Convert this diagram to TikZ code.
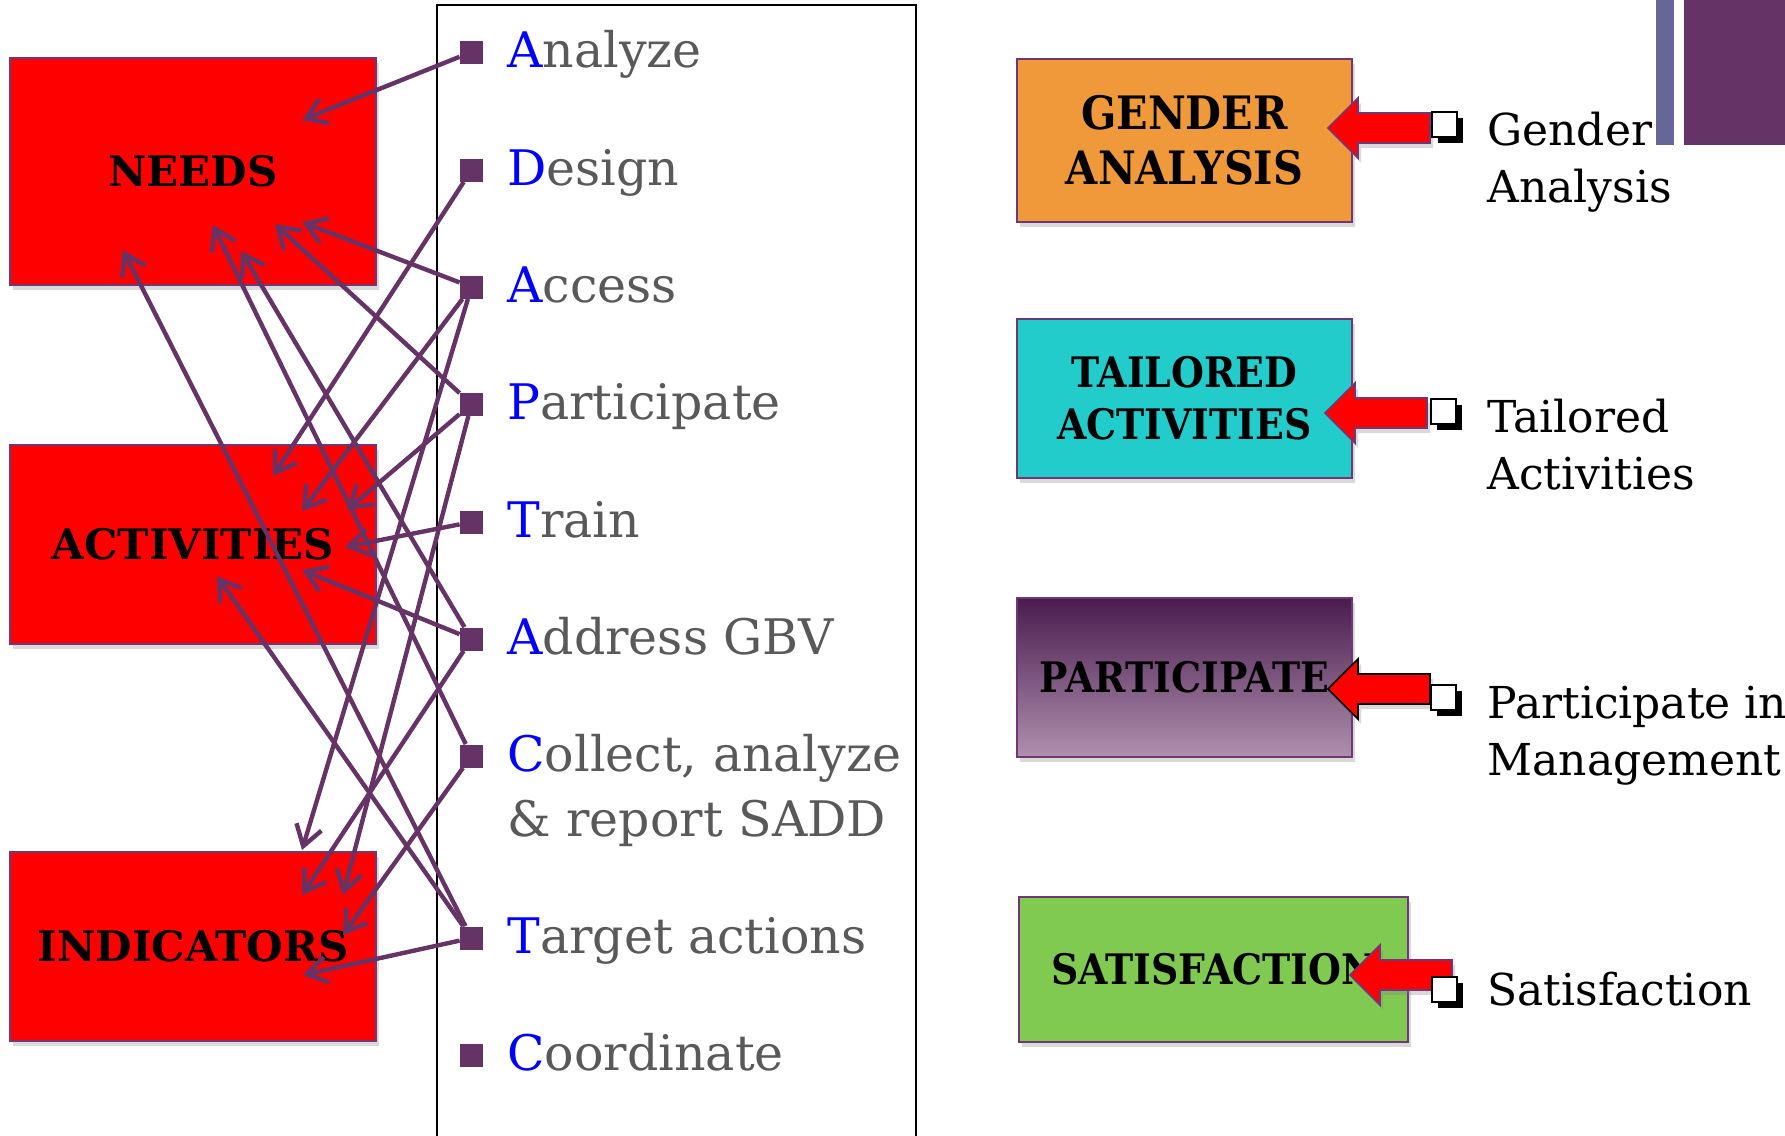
\documentclass[tikz,border=0pt]{standalone}
\usepackage{fontspec}
\setmainfont{DejaVu Serif}
\newfontfamily\narrowserif[FakeStretch=0.9]{DejaVu Serif}
\usepackage{tikz}
\usetikzlibrary{arrows.meta,shadows}

\definecolor{plum}{RGB}{102,51,102}
\definecolor{plumedge}{RGB}{112,54,118}
\definecolor{itemgray}{RGB}{89,89,89}
\definecolor{initblue}{RGB}{0,0,255}
\definecolor{boxorange}{RGB}{240,153,58}
\definecolor{boxcyan}{RGB}{33,204,202}
\definecolor{boxgreen}{RGB}{128,202,82}
\definecolor{partictop}{RGB}{74,28,78}
\definecolor{particbot}{RGB}{174,144,174}
\definecolor{barlight}{RGB}{102,102,153}

\tikzset{
  boxshadow/.style={drop shadow={shadow xshift=1.5pt,shadow yshift=-2.5pt,opacity=.3}},
  redbox/.style={draw=plumedge,line width=0.8pt,fill=red,minimum width=183pt,boxshadow,
    font=\bfseries\fontsize{21}{24}\selectfont},
  sidebox/.style={draw=plumedge,line width=0.8pt,minimum width=167.5pt,boxshadow,align=center},
  bul/.style={fill=plum,minimum size=11.5pt,inner sep=0pt},
  itemtxt/.style={anchor=base west,inner sep=0pt,align=left,text=itemgray,
    font=\fontsize{24.5}{32.5}\selectfont},
  link/.style={draw=plum,line width=2.2pt,-{Straight Barb[length=10pt,width=13pt]}},
  redarr/.style={fill=red,line width=0.8pt,line join=miter,boxshadow},
  chk/.style={draw=black,fill=white,line width=0.6pt,minimum size=12.5pt,inner sep=0pt,
    drop shadow={shadow xshift=3pt,shadow yshift=-3pt,opacity=1,fill=black}},
  chktxt/.style={anchor=base west,inner sep=0pt,align=left,font=\fontsize{22}{28.5}\selectfont}
}
\newcommand\redarrow[3][plumedge]{\draw[redarr,draw=#1,shift={(#2,#3)}]
  (0,0) -- (30,-30) -- (30,-15) -- (102,-15) -- (102,15) -- (30,15) -- (30,30) -- cycle;}

\begin{document}
\begin{tikzpicture}[x=0.5pt,y=-0.5pt]
\useasboundingbox (0,0) rectangle (1785,1136);

\draw[line width=0.9pt] (437,1150) -- (437,5) -- (916,5) -- (916,1150);

\node[redbox,minimum height=113.5pt] (needs) at (193,171.5) {NEEDS};
\node[redbox,minimum height=99.5pt] (acts) at (193,544.5) {ACTIVITIES};
\node[redbox,minimum height=94.5pt] (inds) at (193,946.5) {INDICATORS};

\foreach \nm/\yy/\dy/\ini/\rest in {an/52/15/A/nalyze, de/170/15/D/esign, ac/287/15/A/ccess,
    pa/404/15/P/articipate, tr/522/15/T/rain, ad/639/15/A/ddress GBV,
    co/756/80/C/{ollect, analyze\\\& report SADD}, ta/938/15/T/arget actions, cd/1055/15/C/oordinate}{
  \node[bul] (\nm) at (471.5,\yy) {};
  \node[itemtxt] (\nm-t) at (507,\yy+\dy) {\textcolor{initblue}{\ini}\rest};
}

\coordinate (n1) at (302,120);
\coordinate (n2) at (302,222);
\coordinate (n3) at (275,224);
\coordinate (n4) at (241,251);
\coordinate (n5) at (213,225);
\coordinate (n6) at (123,250);
\coordinate (a1) at (273,476);
\coordinate (a2) at (302,511);
\coordinate (a3) at (347,510);
\coordinate (a4) at (345,547);
\coordinate (a5) at (302,570);
\coordinate (a6) at (217,576);
\coordinate (i1) at (302,850);
\coordinate (i2) at (302,895);
\coordinate (i3) at (343,895);
\coordinate (i4) at (343,935);
\coordinate (i5) at (303,975);

\draw[link]
  (an) edge (n1)
  (ac) edge (n2)
  (pa) edge (n3)
  (ad) edge (n4)
  (co) edge (n5)
  (ta) edge (n6)
  (de) edge (a1)
  (ac) edge (a2)
  (pa) edge (a3)
  (tr) edge (a4)
  (ad) edge (a5)
  (ta) edge (a6)
  (ac) edge (i1)
  (ad) edge (i2)
  (pa) edge (i3)
  (co) edge (i4)
  (ta) edge (i5);

\node[sidebox,fill=boxorange,minimum height=81.5pt,
  font=\narrowserif\bfseries\fontsize{23}{27.5}\selectfont] (gender) at (1184.5,140.5) {GENDER\\ANALYSIS};
\node[sidebox,fill=boxcyan,minimum height=79.5pt,
  font=\narrowserif\bfseries\fontsize{21}{26}\selectfont] (tailor) at (1184.5,398.5) {TAILORED\\ACTIVITIES};
\node[sidebox,top color=partictop,bottom color=particbot,minimum height=79.5pt,
  font=\narrowserif\bfseries\fontsize{21}{26}\selectfont] (partic) at (1184.5,677.5) {PARTICIPATE};
\node[sidebox,fill=boxgreen,minimum width=194.5pt,minimum height=72.5pt,
  font=\narrowserif\bfseries\fontsize{21}{26}\selectfont] (satis) at (1213.5,969.5) {SATISFACTION};

\redarrow{1328}{128}
\redarrow{1325}{413}
\redarrow[black]{1328}{689}
\redarrow{1350}{975}

\node[chk] (c1) at (1444.5,124.5) {};
\node[chk] (c2) at (1443.5,411.5) {};
\node[chk] (c3) at (1443.5,697.5) {};
\node[chk] (c4) at (1444.5,989.5) {};

\node[chktxt] (t1) at (1487,202) {Gender\\Analysis};
\node[chktxt] (t2) at (1487,489) {Tailored\\Activities};
\node[chktxt] (t3) at (1487,775) {Participate in\\Management};
\node[chktxt] (t4) at (1487,1005) {Satisfaction};

\fill[barlight] (1656,0) rectangle (1674,145);
\fill[plum] (1684,0) rectangle (1785,145);
\end{tikzpicture}
\end{document}
